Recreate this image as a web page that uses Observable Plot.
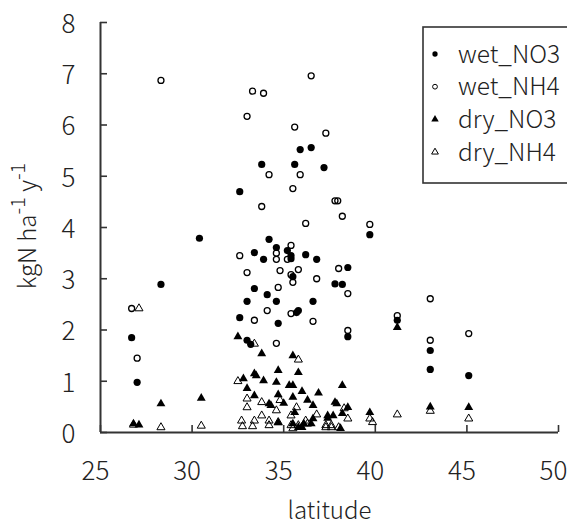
<!DOCTYPE html>
<html>
<head>
<meta charset="utf-8">
<script src="https://cdn.jsdelivr.net/npm/d3@7"></script>
<script src="https://cdn.jsdelivr.net/npm/@observablehq/plot@0.6"></script>
<style>
  html, body { margin: 0; padding: 0; background: #fff; overflow: hidden; }
  #chart { width: 567px; height: 526px; overflow: hidden; }
</style>
</head>
<body>
<div id="chart"></div>
<script>
// ---- data ----
const xTicks = [25, 30, 35, 40, 45, 50];
const yTicks = [0, 1, 2, 3, 4, 5, 6, 7, 8];
const xLabel = "latitude";
const seriesNames = ["wet_NO3", "wet_NH4", "dry_NO3", "dry_NH4"];

const wetNO3Lat = [26.7, 27.0, 28.3, 30.4, 32.6, 32.6, 33.8, 35.6, 35.9, 36.5, 37.2, 39.7, 34.2, 34.6, 35.2, 33.4, 35.4, 35.4, 36.2, 36.8, 33.9, 38.5, 35.5, 37.8, 38.2, 33.4, 34.1, 33.0, 34.6, 36.6, 35.7, 35.8, 41.2, 34.7, 38.5, 33.0, 33.2, 43.0, 43.0, 45.1];
const wetNO3Val = [1.85, 0.98, 2.89, 3.79, 4.70, 2.24, 5.23, 5.23, 5.52, 5.56, 5.17, 3.86, 3.77, 3.61, 3.55, 3.51, 3.45, 3.39, 3.47, 3.38, 3.38, 3.22, 3.04, 2.90, 2.89, 2.81, 2.69, 2.56, 2.56, 2.56, 2.34, 2.38, 2.19, 2.13, 1.87, 1.80, 1.72, 1.60, 1.23, 1.11];

const wetNH4Lat = [28.3, 36.5, 33.3, 33.9, 33.0, 35.6, 37.3, 34.2, 35.9, 35.5, 33.8, 37.8, 37.95, 38.2, 36.2, 39.7, 35.4, 34.6, 34.6, 35.2, 32.6, 38.0, 33.0, 34.8, 35.8, 35.4, 36.8, 35.5, 34.7, 38.5, 34.1, 35.4, 33.4, 36.6, 41.2, 38.5, 34.6, 26.7, 27.0, 43.0, 43.0, 45.1];
const wetNH4Val = [6.87, 6.96, 6.66, 6.62, 6.17, 5.96, 5.84, 5.03, 5.03, 4.76, 4.41, 4.52, 4.52, 4.22, 4.08, 4.06, 3.65, 3.50, 3.38, 3.38, 3.45, 3.20, 3.12, 3.16, 3.18, 3.08, 3.00, 2.93, 2.83, 2.71, 2.38, 2.32, 2.19, 2.17, 2.28, 1.99, 1.74, 2.42, 1.45, 2.61, 1.80, 1.93];

const dryNO3Lat = [26.8, 27.1, 28.3, 30.5, 32.5, 33.8, 35.5, 33.4, 32.8, 33.9, 34.7, 35.8, 34.6, 35.3, 35.5, 36.0, 36.9, 38.2, 33.0, 33.4, 34.7, 35.5, 36.3, 34.2, 35.0, 36.6, 37.9, 38.5, 38.2, 35.6, 37.4, 37.7, 35.5, 36.1, 36.5, 38.1, 34.3, 34.7, 41.2, 39.7, 43.0, 45.1, 33.5, 37.8, 36.6, 37.4, 35.8, 36.0];
const dryNO3Val = [0.17, 0.15, 0.56, 0.67, 1.87, 1.54, 1.50, 1.15, 1.05, 1.01, 1.21, 1.17, 0.98, 0.92, 0.92, 0.80, 0.77, 0.92, 0.86, 0.72, 0.74, 0.69, 0.63, 0.56, 0.57, 0.53, 0.56, 0.49, 0.37, 0.39, 0.33, 0.33, 0.17, 0.17, 0.17, 0.08, 0.53, 0.19, 2.05, 0.39, 0.50, 0.49, 1.11, 0.59, 0.27, 0.28, 0.10, 0.10];

const dryNH4Lat = [26.8, 27.1, 28.3, 30.5, 32.5, 33.4, 35.8, 33.0, 33.0, 33.8, 34.8, 35.7, 34.6, 33.8, 35.4, 36.8, 38.3, 38.5, 32.7, 33.4, 34.2, 34.7, 35.4, 35.8, 36.3, 37.3, 37.6, 38.0, 35.5, 39.7, 41.2, 43.0, 45.1, 39.85, 36.2, 37.3, 37.6, 32.75, 33.3, 34.2];
const dryNH4Val = [0.15, 2.42, 0.10, 0.13, 1.00, 1.73, 1.42, 0.66, 0.49, 0.59, 0.63, 0.49, 0.43, 0.33, 0.33, 0.35, 0.47, 0.27, 0.23, 0.23, 0.23, 0.20, 0.14, 0.14, 0.17, 0.14, 0.14, 0.10, 0.08, 0.27, 0.35, 0.42, 0.27, 0.20, 0.23, 0.10, 0.10, 0.12, 0.12, 0.14];

// ---- build tables ----
const toRows = (lat, val) => lat.map((d, i) => ({lat: d, val: val[i]}));
const wetNO3 = toRows(wetNO3Lat, wetNO3Val);
const wetNH4 = toRows(wetNH4Lat, wetNH4Val);
const dryNO3 = toRows(dryNO3Lat, dryNO3Val);
const dryNH4 = toRows(dryNH4Lat, dryNH4Val);

const FONT = "'Noto Sans CJK JP', 'Liberation Sans', sans-serif";
const AX = "#333";

const svg = Plot.plot({
  width: 567,
  height: 526,
  marginLeft: 100,
  marginRight: 9,
  marginTop: 22,
  marginBottom: 94,
  style: {fontFamily: FONT, fontSize: "26px", color: "#222", background: "#fff"},
  x: {domain: [25, 50], ticks: xTicks},
  y: {domain: [0, 8], ticks: yTicks},
  marks: [
    Plot.axisY({ticks: yTicks, tickSize: -7, stroke: AX, strokeWidth: 1.6, text: null, label: null}),
    Plot.axisY({ticks: yTicks, tickSize: 0, tickPadding: 25, dy: 2, label: null, fontWeight: 300}),
    Plot.axisX({ticks: xTicks, tickSize: -7, stroke: AX, strokeWidth: 1.6, text: null, label: null}),
    Plot.axisX({ticks: xTicks, tickSize: 0, tickPadding: 29, dx: -5, label: null, fontWeight: 300}),
    Plot.text([xLabel], {frameAnchor: "bottom", lineAnchor: "bottom", dy: 86, fontSize: 24, fontWeight: 300, fill: "#222"}),
    Plot.ruleX([25], {stroke: AX, strokeWidth: 2}),
    Plot.ruleY([0], {stroke: AX, strokeWidth: 2}),
    Plot.dot(wetNO3, {x: "lat", y: "val", r: 3.6, fill: "#000", stroke: "none"}),
    Plot.dot(wetNH4, {x: "lat", y: "val", r: 3.0, fill: "none", stroke: "#000", strokeWidth: 1.3}),
    Plot.dot(dryNO3, {x: "lat", y: "val", r: 3.3, symbol: "triangle", fill: "#000", stroke: "none"}),
    Plot.dot(dryNH4, {x: "lat", y: "val", r: 3.0, symbol: "triangle", fill: "none", stroke: "#000", strokeWidth: 1})
  ]
});

// ---- y-axis title with superscripts ----
const s = d3.select(svg);
const yt = s.append("text")
  .attr("transform", "translate(36,226) rotate(-90)")
  .attr("text-anchor", "middle")
  .attr("font-family", FONT)
  .attr("font-size", 24)
  .attr("font-weight", 300)
  .attr("fill", "#222");
yt.append("tspan").text("kgN ha");
yt.append("tspan").attr("dy", -11).attr("font-size", 20).text("-1");
yt.append("tspan").attr("dy", 11).text(" y");
yt.append("tspan").attr("dy", -11).attr("font-size", 20).text("-1");

// ---- legend (inside plot, top right, cut by the right edge) ----
const lg = s.append("g").attr("text-anchor", "start");
lg.append("rect").attr("x", 423).attr("y", 27).attr("width", 220).attr("height", 156)
  .attr("fill", "#fff").attr("stroke", AX).attr("stroke-width", 1.6);
const legendSymbols = [
  {type: d3.symbolCircle, size: 22, fill: "#000", stroke: "none"},
  {type: d3.symbolCircle, size: 18, fill: "none", stroke: "#000"},
  {type: d3.symbolTriangle, size: 24, fill: "#000", stroke: "none"},
  {type: d3.symbolTriangle, size: 20, fill: "none", stroke: "#000"}
];
seriesNames.forEach((name, i) => {
  const cy = 54 + i * 32.7;
  const sym = legendSymbols[i];
  lg.append("path")
    .attr("d", d3.symbol().type(sym.type).size(sym.size)())
    .attr("transform", `translate(435,${cy})`)
    .attr("fill", sym.fill).attr("stroke", sym.stroke).attr("stroke-width", 1);
  lg.append("text")
    .attr("x", 458).attr("y", cy + 8.5)
    .attr("text-anchor", "start")
    .attr("font-family", FONT).attr("font-size", 24.5).attr("font-weight", 300)
    .attr("fill", "#222")
    .text(name);
});

document.getElementById("chart").appendChild(svg);
</script>
</body>
</html>
